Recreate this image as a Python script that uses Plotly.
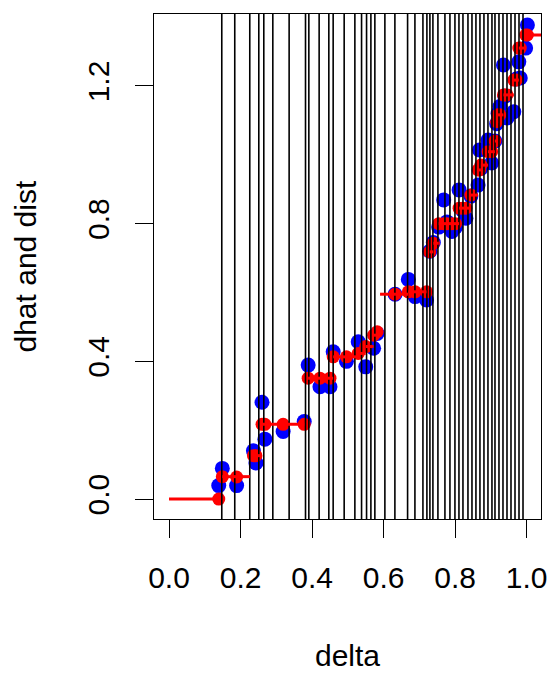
import plotly.graph_objects as go

# vertical reference lines (delta knots)
vlines = [0.1475, 0.1838, 0.2258, 0.2510, 0.2650, 0.2902, 0.3358, 0.3816, 0.3909,
          0.4197, 0.4468, 0.4589, 0.4897, 0.5196, 0.5383, 0.5523, 0.5644, 0.5755,
          0.6035, 0.6315, 0.6670, 0.6875, 0.7099, 0.7210, 0.7294, 0.7378, 0.7518,
          0.7714, 0.7854, 0.7994, 0.8106, 0.8218, 0.8358, 0.8470, 0.8581, 0.8693,
          0.8805, 0.8917, 0.9029, 0.9113, 0.9225, 0.9337, 0.9449, 0.9561, 0.9673,
          0.9785, 0.9897]

# points: delta, dhat (blue), dist (red)
delta = [0.139, 0.149, 0.189, 0.236, 0.243, 0.260, 0.268, 0.319, 0.378, 0.389,
         0.422, 0.450, 0.459, 0.496, 0.529, 0.550, 0.572, 0.582, 0.632, 0.669,
         0.688, 0.720, 0.729, 0.739, 0.754, 0.768, 0.777, 0.791, 0.801, 0.811,
         0.820, 0.830, 0.844, 0.864, 0.868, 0.872, 0.892, 0.902, 0.911, 0.916,
         0.920, 0.925, 0.935, 0.939, 0.945, 0.964, 0.971, 0.978, 0.982, 0.997,
         1.002]
dhat = [0.039, 0.089, 0.039, 0.140, 0.105, 0.281, 0.174, 0.196, 0.225, 0.389,
        0.326, 0.326, 0.428, 0.400, 0.457, 0.384, 0.438, 0.481, 0.595, 0.638,
        0.588, 0.578, 0.720, 0.745, 0.790, 0.869, 0.805, 0.777, 0.790, 0.898,
        0.840, 0.816, 0.880, 0.912, 1.014, 0.960, 1.043, 0.976, 1.040, 1.090,
        1.120, 1.140, 1.261, 1.170, 1.107, 1.125, 1.220, 1.270, 1.223, 1.310,
        1.377]
dist = [0.000, 0.065, 0.064, 0.126, 0.126, 0.217, 0.217, 0.217, 0.217, 0.351,
        0.351, 0.351, 0.413, 0.413, 0.423, 0.443, 0.476, 0.486, 0.595, 0.602,
        0.602, 0.602, 0.718, 0.743, 0.800, 0.800, 0.800, 0.800, 0.800, 0.845,
        0.845, 0.845, 0.883, 0.956, 0.956, 0.970, 1.009, 1.009, 1.040, 1.096,
        1.116, 1.116, 1.174, 1.174, 1.174, 1.217, 1.217, 1.310, 1.310, 1.348,
        1.348]

# horizontal step segments of dist
seg_start = [0.0, 0.149, 0.236, 0.260, 0.389, 0.459, 0.529, 0.550, 0.572, 0.582,
             0.590, 0.632, 0.669, 0.729, 0.739, 0.754, 0.811, 0.844, 0.864, 0.872,
             0.892, 0.911, 0.916, 0.920, 0.935, 0.964, 0.978, 0.997]
seg_end = [0.139, 0.226, 0.260, 0.378, 0.459, 0.529, 0.550, 0.572, 0.582, 0.590,
           0.632, 0.669, 0.720, 0.739, 0.754, 0.811, 0.844, 0.864, 0.872, 0.892,
           0.911, 0.916, 0.920, 0.935, 0.964, 0.978, 0.997, 1.045]
seg_val = [0.000, 0.065, 0.126, 0.217, 0.351, 0.413, 0.423, 0.443, 0.476, 0.486,
           0.595, 0.595, 0.602, 0.718, 0.743, 0.800, 0.845, 0.883, 0.956, 0.970,
           1.009, 1.040, 1.096, 1.116, 1.174, 1.217, 1.310, 1.348]

xticks = [0.0, 0.2, 0.4, 0.6, 0.8, 1.0]
xticklabels = ["0.0", "0.2", "0.4", "0.6", "0.8", "1.0"]
yticks = [0.0, 0.4, 0.8, 1.2]
yticklabels = ["0.0", "0.4", "0.8", "1.2"]

FONT = "Liberation Sans, Arial, sans-serif"

fig = go.Figure()
fig.add_trace(go.Scatter(x=delta, y=dhat, mode="markers",
                         marker=dict(color="#0000FF", size=15, line=dict(width=0)),
                         showlegend=False, hoverinfo="skip"))
fig.add_trace(go.Scatter(x=delta, y=dist, mode="markers",
                         marker=dict(color="#FF0000", size=13, line=dict(width=0)),
                         showlegend=False, hoverinfo="skip"))

vx, vy = [], []
for v in vlines:
    vx += [v, v, None]
    vy += [-1, 2, None]
fig.add_trace(go.Scatter(x=vx, y=vy, mode="lines", line=dict(color="black", width=1.6),
                         showlegend=False, hoverinfo="skip"))

sx, sy = [], []
for a, b, c in zip(seg_start, seg_end, seg_val):
    sx += [a, b, None]
    sy += [c, c, None]
fig.add_trace(go.Scatter(x=sx, y=sy, mode="lines", line=dict(color="#FF0000", width=3),
                         showlegend=False, hoverinfo="skip"))

axis_common = dict(showgrid=False, zeroline=False, showline=True, mirror=True,
                   linecolor="black", linewidth=1.3, ticks="outside", ticklen=18,
                   tickwidth=1.3, tickcolor="black", ticklabelstandoff=14,
                   automargin=False,
                   tickfont=dict(family=FONT, size=30, color="black"))
fig.update_xaxes(range=[-0.042, 1.04], tickvals=xticks, ticktext=xticklabels, **axis_common)
fig.update_yaxes(range=[-0.058, 1.409], tickvals=yticks, ticktext=yticklabels,
                 tickangle=-90, **axis_common)

fig.add_annotation(text="delta", xref="paper", yref="paper", x=0.5, y=0,
                   xanchor="center", yanchor="middle", yshift=-136, showarrow=False,
                   font=dict(family=FONT, size=30, color="black"))
fig.add_annotation(text="dhat and dist", xref="paper", yref="paper", x=0, y=0.5,
                   xanchor="center", yanchor="middle", xshift=-129, textangle=-90,
                   showarrow=False, font=dict(family=FONT, size=30, color="black"))

fig.update_layout(width=550, height=673, margin=dict(l=154, r=9, t=14, b=154),
                  plot_bgcolor="white", paper_bgcolor="white")

fig.write_html("out.html", config={"displayModeBar": False},
               post_script="document.body.style.margin='0';")
